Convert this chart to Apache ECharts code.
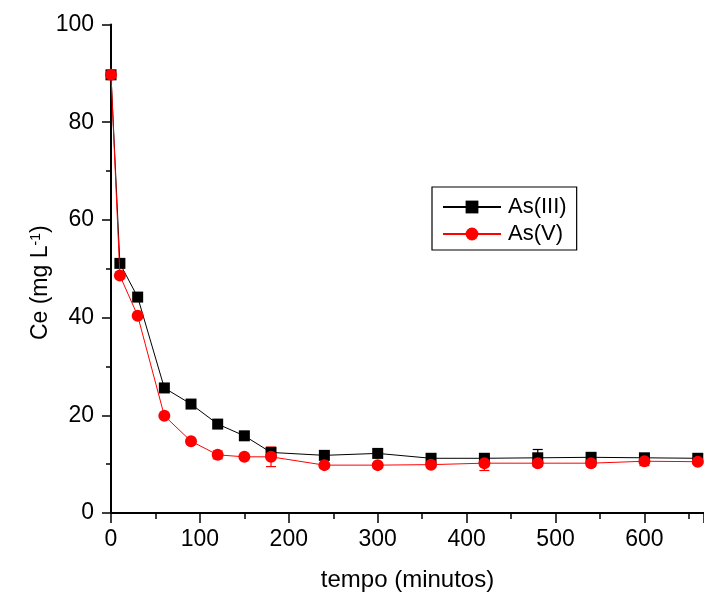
<!DOCTYPE html>
<html><head><meta charset="utf-8">
<script src="https://cdn.jsdelivr.net/npm/echarts@6/dist/echarts.min.js"></script>
<style>html,body{margin:0;padding:0;background:#fff}#c{width:704px;height:593px}</style>
</head><body><div id="c"></div>
<script>
var times = [0, 10, 30, 60, 90, 120, 150, 180, 240, 300, 360, 420, 480, 540, 600, 660];
var as3 = [89.7, 51.1, 44.2, 25.6, 22.3, 18.2, 15.8, 12.4, 11.8, 12.2, 11.2, 11.2, 11.3, 11.4, 11.3, 11.2];
var as3Err = [0, 0, 0, 0, 0, 0, 0, 1.0, 0, 0, 0, 0.4, 1.7, 0, 0.3, 0.3];
var as5 = [89.7, 48.6, 40.4, 19.9, 14.7, 11.9, 11.5, 11.5, 9.8, 9.8, 9.9, 10.2, 10.2, 10.2, 10.6, 10.5];
var as5Err = [0, 0, 0, 0, 0, 0.8, 0, 2.0, 0, 0, 0.5, 1.5, 0.4, 0, 0.9, 0.5];
var xTicks = [0, 100, 200, 300, 400, 500, 600];
var yTicks = [0, 20, 40, 60, 80, 100];

function pairs(v){ return times.map(function(t,i){return [t, v[i]];}); }
function errData(v, e){ var out=[]; times.forEach(function(t,i){ if(e[i]>0) out.push([t, v[i]-e[i], v[i]+e[i]]); }); return out; }
function errSeries(v, e, color){
  return {type:'custom', data: errData(v,e), z:1, silent:true,
    renderItem:function(params, api){
      var x = api.value(0), lo = api.value(1), hi = api.value(2);
      var p1 = api.coord([x, lo]), p2 = api.coord([x, hi]);
      var w = 5;
      var st = {stroke: color, lineWidth: 1.2};
      return {type:'group', children:[
        {type:'line', shape:{x1:p1[0], y1:p1[1], x2:p2[0], y2:p2[1]}, style:st},
        {type:'line', shape:{x1:p1[0]-w, y1:p1[1], x2:p1[0]+w, y2:p1[1]}, style:st},
        {type:'line', shape:{x1:p2[0]-w, y1:p2[1], x2:p2[0]+w, y2:p2[1]}, style:st}
      ]};
    }};
}
var font = 'Liberation Sans, Arial, sans-serif';
var chart = echarts.init(document.getElementById('c'));
chart.setOption({
  animation:false,
  grid:{left:111, top:24.5, right:0, bottom:80, containLabel:false, outerBoundsMode:'none'},
  legend:{
    left:432, top:187,
    orient:'vertical', itemWidth:58, itemHeight:16, itemGap:5,
    padding:[9,10,5,10],
    borderColor:'#000', borderWidth:1.2, borderRadius:0,
    textStyle:{fontFamily:font, fontSize:22, color:'#000', padding:[0,0,0,2]},
    data:['As(III)','As(V)']
  },
  xAxis:[{
    type:'value', min:0, max:667, interval:100, position:'bottom',
    axisLine:{show:true, onZero:false, lineStyle:{color:'#000', width:2}},
    axisTick:{show:true, inside:false, length:10, lineStyle:{color:'#000', width:1.5}},
    minorTick:{show:true, splitNumber:2, length:6, lineStyle:{color:'#000', width:1.5}},
    splitLine:{show:false},
    axisLabel:{fontFamily:font, fontSize:23, color:'#000', margin:15,
      formatter:function(v){return xTicks.indexOf(v)>=0 ? String(v) : '';}},
    name:'tempo (minutos)', nameLocation:'middle', nameGap:55, nameMoveOverlap:false,
    nameTextStyle:{fontFamily:font, fontSize:24, color:'#000'}
  },{
    type:'value', min:0, max:667, position:'top',
    axisLine:{show:true, lineStyle:{color:'#000', width:1.5}},
    axisTick:{show:false}, axisLabel:{show:false}, splitLine:{show:false}
  }],
  yAxis:{
    type:'value', min:0, max:100, interval:20,
    axisLine:{show:true, onZero:false, lineStyle:{color:'#000', width:2}},
    axisTick:{show:true, inside:false, length:9, lineStyle:{color:'#000', width:1.5}},
    minorTick:{show:true, splitNumber:2, length:5, lineStyle:{color:'#000', width:1.5}},
    splitLine:{show:false},
    axisLabel:{fontFamily:font, fontSize:23, color:'#000', margin:17,
      formatter:function(v){return yTicks.indexOf(v)>=0 ? String(v) : '';}},
    name:'{a|Ce (mg L}{s|-1}{a|)}', nameLocation:'middle', nameGap:58, nameRotate:90, nameMoveOverlap:false,
    nameTextStyle:{fontFamily:font, fontSize:23, color:'#000', padding:[0,28,0,0],
      rich:{a:{fontFamily:font, fontSize:23, color:'#000'}, s:{fontFamily:font, fontSize:14, color:'#000', verticalAlign:'top', padding:[0,0,10,0]}}}
  },
  series:[
    errSeries(as3, as3Err, '#000'),
    errSeries(as5, as5Err, '#ff0000'),
    {name:'As(III)', type:'line', data:pairs(as3), symbol:'rect', symbolSize:11, z:3,
      lineStyle:{color:'#000', width:1}, itemStyle:{color:'#000'}},
    {name:'As(V)', type:'line', data:pairs(as5), symbol:'circle', symbolSize:12, z:4,
      lineStyle:{color:'#ff0000', width:1}, itemStyle:{color:'#ff0000'}}
  ]
});
</script></body></html>
